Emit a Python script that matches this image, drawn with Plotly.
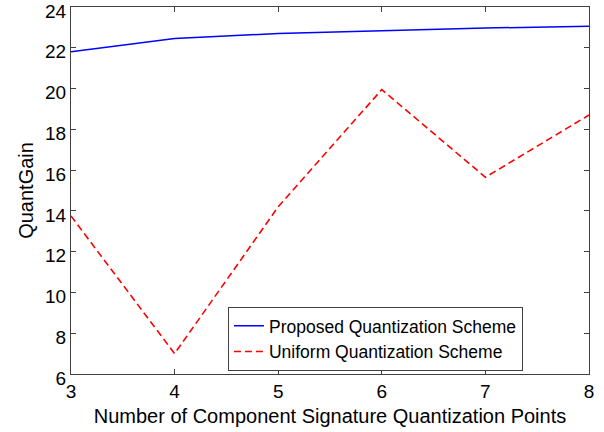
import plotly.graph_objects as go

x_points = [3, 4, 5, 6, 7, 8]
proposed = [21.8, 22.45, 22.7, 22.85, 22.97, 23.05]
uniform = [13.75, 7.0, 14.2, 19.95, 15.65, 18.7]
x_ticks = [3, 4, 5, 6, 7, 8]
y_ticks = [6, 8, 10, 12, 14, 16, 18, 20, 22, 24]

FONT = "Liberation Sans, Arial"

fig = go.Figure()
fig.add_trace(go.Scatter(x=x_points, y=proposed, mode="lines",
                         name="Proposed Quantization Scheme",
                         line=dict(color="#0000ff", width=1.5)))
fig.add_trace(go.Scatter(x=x_points, y=uniform, mode="lines",
                         name="Uniform Quantization Scheme",
                         line=dict(color="#ff0000", width=1.6, dash="7px,4px")))

axis_common = dict(showgrid=False, zeroline=False, showline=True, linecolor="#404040",
                   linewidth=1, mirror="ticks", ticks="inside", ticklen=5,
                   tickcolor="#404040", ticklabeloverflow="allow", automargin=False,
                   tickfont=dict(family=FONT, size=19, color="#000"))

fig.update_xaxes(range=[3, 8], tickvals=x_ticks,
                 title=dict(text="Number of Component Signature Quantization Points",
                            font=dict(family=FONT, size=20, color="#000"),
                            standoff=8),
                 **axis_common)
fig.update_yaxes(range=[6, 24], tickvals=y_ticks, ticklabelshift=4,
                 title=dict(text="QuantGain",
                            font=dict(family=FONT, size=20, color="#000"),
                            standoff=6),
                 **axis_common)

fig.update_layout(
    width=604, height=432,
    margin=dict(l=71, r=15, t=7, b=58),
    plot_bgcolor="white", paper_bgcolor="white",
    legend=dict(x=0.303, y=0.183, xanchor="left", yanchor="top",
                bordercolor="#404040", borderwidth=1, bgcolor="white",
                font=dict(family=FONT, size=17.5, color="#000"),
                tracegroupgap=0, itemwidth=30),
)

fig.write_html("out.html")
